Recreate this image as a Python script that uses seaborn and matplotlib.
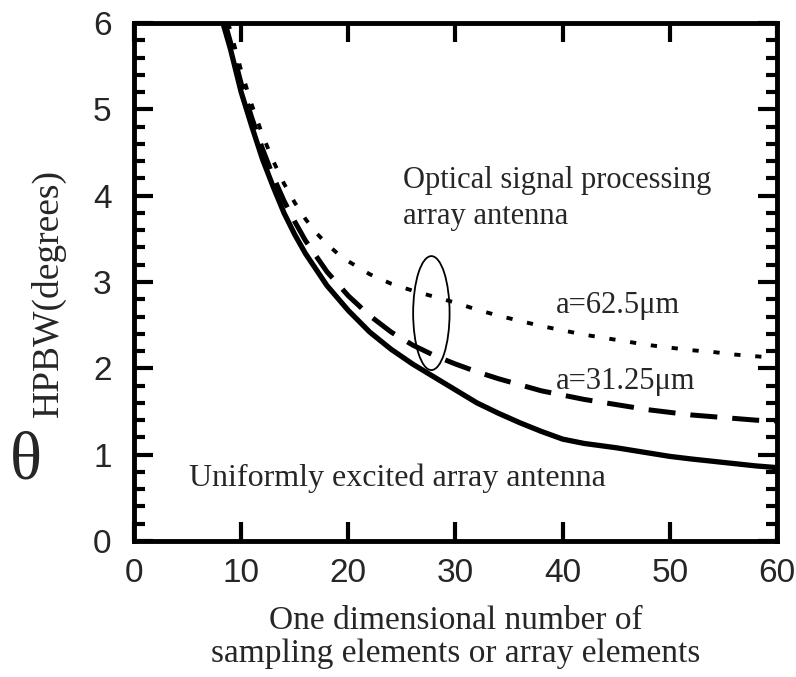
import matplotlib
matplotlib.use("Agg")
import matplotlib.pyplot as plt
from matplotlib.patches import Ellipse
from matplotlib.ticker import MultipleLocator
import seaborn as sns

# uniformly excited array antenna
uni_n = [8.3, 9, 10, 11, 12, 13, 14, 15, 16, 18, 20, 22, 24, 26, 28, 30, 32, 34, 36, 38, 40,
         42, 45, 48, 50, 52, 55, 58, 60]
uni_hpbw = [6.0, 5.7, 5.2, 4.8, 4.42, 4.1, 3.8, 3.55, 3.33, 2.96, 2.67, 2.42, 2.22, 2.05, 1.9,
            1.75, 1.6, 1.48, 1.37, 1.27, 1.18, 1.13, 1.08, 1.02, 0.98, 0.95, 0.91, 0.87, 0.85]

# optical signal processing array antenna, a=31.25um
a31_n = [8.5, 9, 10, 11, 12, 13, 14, 15, 16, 18, 20, 22, 24, 26, 28, 30, 32, 34, 36, 38, 40,
         42, 44, 46, 48, 50, 52, 54, 56, 58, 60]
a31_hpbw = [6.0, 5.78, 5.3, 4.9, 4.54, 4.22, 3.94, 3.7, 3.48, 3.12, 2.84, 2.61, 2.42, 2.27,
            2.15, 2.05, 1.96, 1.88, 1.81, 1.74, 1.69, 1.64, 1.6, 1.56, 1.52, 1.49, 1.46, 1.44,
            1.42, 1.4, 1.39]

# optical signal processing array antenna, a=62.5um
a62_n = [8.8, 10, 11, 12, 13, 14, 15, 16, 17, 18, 19, 20, 22, 24, 26, 28, 30, 32, 34, 36, 38,
         40, 42, 44, 46, 48, 50, 52, 54, 56, 58, 60]
a62_hpbw = [6.0, 5.45, 5.05, 4.7, 4.4, 4.14, 3.92, 3.73, 3.57, 3.44, 3.33, 3.24, 3.09, 2.98,
            2.9, 2.83, 2.76, 2.68, 2.61, 2.55, 2.49, 2.44, 2.39, 2.35, 2.31, 2.27, 2.24, 2.21,
            2.19, 2.16, 2.14, 2.12]

sns.set_style("ticks")
serif = "Liberation Serif"
sans = "Liberation Sans"

fig = plt.figure(figsize=(7.96, 6.77), dpi=100)
ax = fig.add_axes([0.1683, 0.2009, 0.8078, 0.7651])

sns.lineplot(x=uni_n, y=uni_hpbw, ax=ax, color="black", linewidth=3.8, sort=False,
             solid_capstyle="butt")
sns.lineplot(x=a31_n, y=a31_hpbw, ax=ax, color="black", linewidth=3.6, sort=False,
             linestyle=(0, (5.4, 3.0)), dash_capstyle="butt")
sns.lineplot(x=a62_n, y=a62_hpbw, ax=ax, color="black", linewidth=2.8, sort=False,
             linestyle=(0, (1.6, 3.8)), dash_capstyle="butt")

ax.add_patch(Ellipse((27.75, 2.64), 3.4, 1.32, fill=False, edgecolor="black", linewidth=1.3))

ax.text(25.1, 4.17, "Optical signal processing", family=serif, fontsize=22, va="center")
ax.text(25.1, 3.76, "array antenna", family=serif, fontsize=22, va="center")
ax.text(39.4, 2.73, "a=62.5μm", family=serif, fontsize=22, va="center")
ax.text(39.4, 1.85, "a=31.25μm", family=serif, fontsize=22, va="center")
ax.text(5.1, 0.73, "Uniformly excited array antenna", family=serif, fontsize=23, va="center")

ax.set_xlim(0, 60)
ax.set_ylim(0, 6)
ax.set_xticks(range(0, 61, 10))
ax.set_yticks(range(0, 7))
ax.yaxis.set_minor_locator(MultipleLocator(0.2))
ax.tick_params(which="both", direction="in", top=True, right=True, width=3, color="black")
ax.tick_params(which="major", length=14)
ax.tick_params(which="minor", length=8)
ax.tick_params(axis="x", which="major", pad=12)
ax.tick_params(axis="y", which="major", pad=16)
for lab in ax.get_xticklabels() + ax.get_yticklabels():
    lab.set_family(sans)
    lab.set_fontsize(24)
for sp in ax.spines.values():
    sp.set_linewidth(3.5)
    sp.set_color("black")

ax.set_xlabel("One dimensional number of\nsampling elements or array elements",
              family=serif, fontsize=24, linespacing=1.1, labelpad=12)
ax.set_ylabel("")
fig.text(0.032, 0.318, "θ", family=serif, fontsize=48, ha="center", va="center")
fig.text(0.061, 0.384, "HPBW(degrees)", family=serif, fontsize=27, rotation=90,
         ha="center", va="bottom")

fig.savefig("out.png", dpi=100)
